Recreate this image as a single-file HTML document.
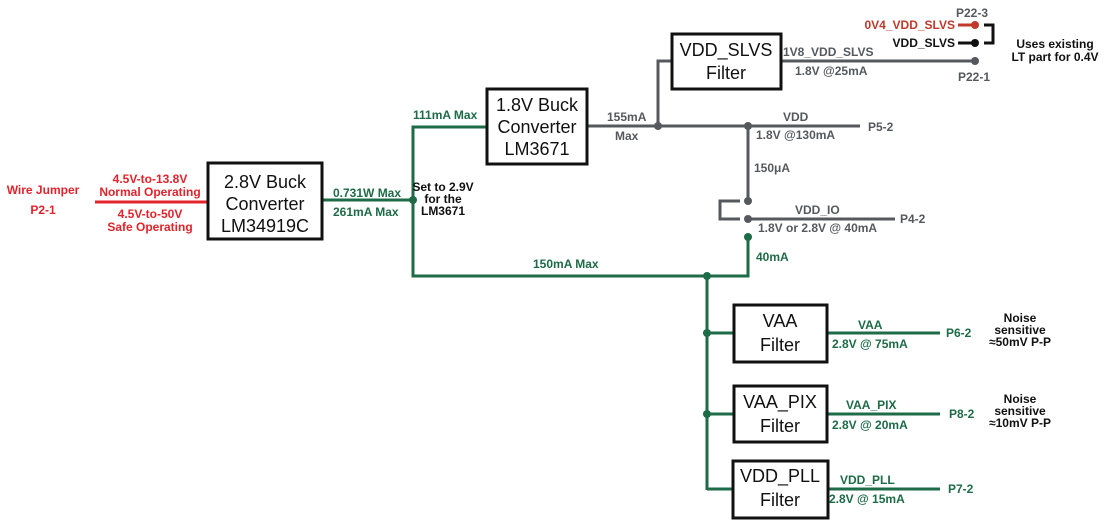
<!DOCTYPE html>
<html><head><style>body{margin:0;background:#fff}svg{display:block}text{font-family:"Liberation Sans",Arial,sans-serif}</style></head><body>
<svg width="1105" height="521" viewBox="0 0 1105 521" xmlns="http://www.w3.org/2000/svg">
<g fill="none" stroke-width="3">
<line x1="95" y1="202" x2="208" y2="202" stroke="#e2232b"/>
<g stroke="#1e6b47">
<polyline points="322,200 413,200"/>
<polyline points="487,127 413,127 413,276 707,276"/>
<polyline points="707,276 748,276 748,237"/>
<line x1="707" y1="276" x2="707" y2="490"/>
<line x1="707" y1="333" x2="734" y2="333"/>
<line x1="707" y1="414" x2="734" y2="414"/>
<line x1="707" y1="489" x2="733" y2="489"/>
<line x1="827" y1="333" x2="940" y2="333"/>
<line x1="827" y1="414" x2="940" y2="414"/>
<line x1="828" y1="489" x2="940" y2="489"/>
</g>
<g stroke="#55595d">
<line x1="587" y1="126" x2="860" y2="126"/>
<polyline points="658,126 658,61 672,61"/>
<line x1="781" y1="61" x2="975" y2="61"/>
<line x1="748" y1="126" x2="748" y2="201"/>
<polyline points="740,201 720,201 720,219 740,219"/>
<line x1="748" y1="219" x2="895" y2="219"/>
</g>
<line x1="958" y1="25" x2="975" y2="25" stroke="#c0392b"/>
<line x1="958" y1="43" x2="975" y2="43" stroke="#111"/>
<polyline points="984,25 993,25 993,43 984,43" stroke="#111"/>
</g>
<g fill="#fff" stroke="#111" stroke-width="3">
<rect x="208" y="163" width="114" height="76"/>
<rect x="487" y="89" width="100" height="75"/>
<rect x="672" y="34" width="109" height="55"/>
<rect x="734" y="305" width="93" height="57"/>
<rect x="734" y="386" width="93" height="56"/>
<rect x="733" y="461" width="95" height="57"/>
</g>
<g fill="#1e6b47"><circle cx="413" cy="200" r="4"/><circle cx="707" cy="276" r="4"/><circle cx="748" cy="237" r="4"/><circle cx="707" cy="333" r="4"/><circle cx="707" cy="414" r="4"/></g>
<g fill="#55595d"><circle cx="658" cy="126" r="4"/><circle cx="748" cy="126" r="4"/><circle cx="748" cy="201" r="4"/><circle cx="748" cy="219" r="4"/><circle cx="975" cy="61" r="4"/></g>
<circle cx="975" cy="25" r="4" fill="#c0392b"/><circle cx="975" cy="43" r="4" fill="#111"/>
<g font-size="18" fill="#111" text-anchor="middle">
<text x="265" y="188">2.8V Buck</text><text x="265" y="210">Converter</text><text x="265" y="232">LM34919C</text>
<text x="537" y="111">1.8V Buck</text><text x="537" y="133">Converter</text><text x="537" y="155">LM3671</text>
<text x="726" y="56">VDD_SLVS</text><text x="726" y="79">Filter</text>
<text x="780" y="327">VAA</text><text x="780" y="351">Filter</text>
<text x="780" y="408">VAA_PIX</text><text x="780" y="432">Filter</text>
<text x="780" y="482">VDD_PLL</text><text x="780" y="506">Filter</text>
</g>
<g font-size="12" font-weight="bold" fill="#e2232b" text-anchor="middle">
<text x="43" y="194">Wire Jumper</text><text x="43" y="214">P2-1</text>
<text x="150" y="183">4.5V-to-13.8V</text><text x="150" y="196">Normal Operating</text>
<text x="150" y="218">4.5V-to-50V</text><text x="150" y="231">Safe Operating</text>
</g>
<g font-size="12" font-weight="bold" fill="#1e6b47">
<text x="333" y="197">0.731W Max</text><text x="333" y="216">261mA Max</text>
<text x="413" y="119">111mA Max</text>
<text x="533" y="268">150mA Max</text>
<text x="756" y="261">40mA</text>
<text x="858" y="329">VAA</text><text x="832" y="348">2.8V @ 75mA</text><text x="946" y="337">P6-2</text>
<text x="846" y="409">VAA_PIX</text><text x="832" y="429">2.8V @ 20mA</text><text x="949" y="418">P8-2</text>
<text x="840" y="484">VDD_PLL</text><text x="829" y="503">2.8V @ 15mA</text><text x="948" y="493">P7-2</text>
</g>
<g font-size="12" font-weight="bold" fill="#111" text-anchor="middle">
<text x="443" y="191">Set to 2.9V</text><text x="443" y="203">for the</text><text x="443" y="215">LM3671</text>
<text x="1055" y="48">Uses existing</text><text x="1055" y="61">LT part for 0.4V</text>
<text x="1020" y="322">Noise</text><text x="1020" y="334">sensitive</text><text x="1020" y="346">≈50mV P-P</text>
<text x="1020" y="403">Noise</text><text x="1020" y="415">sensitive</text><text x="1020" y="427">≈10mV P-P</text>
</g>
<g font-size="12" font-weight="bold" fill="#111" text-anchor="end"><text x="955" y="47">VDD_SLVS</text></g>
<g font-size="12" font-weight="bold" fill="#c0392b" text-anchor="end"><text x="955" y="29">0V4_VDD_SLVS</text></g>
<g font-size="12" font-weight="bold" fill="#55595d">
<text x="956" y="17">P22-3</text><text x="958" y="81">P22-1</text>
<text x="783" y="56">1V8_VDD_SLVS</text><text x="795" y="75">1.8V @25mA</text>
<text x="607" y="121">155mA</text><text x="615" y="140">Max</text>
<text x="783" y="121">VDD</text><text x="756" y="139">1.8V @130mA</text><text x="868" y="131">P5-2</text>
<text x="754" y="172">150μA</text>
<text x="795" y="214">VDD_IO</text><text x="758" y="232">1.8V or 2.8V @ 40mA</text><text x="900" y="223">P4-2</text>
</g>
</svg>
</body></html>
